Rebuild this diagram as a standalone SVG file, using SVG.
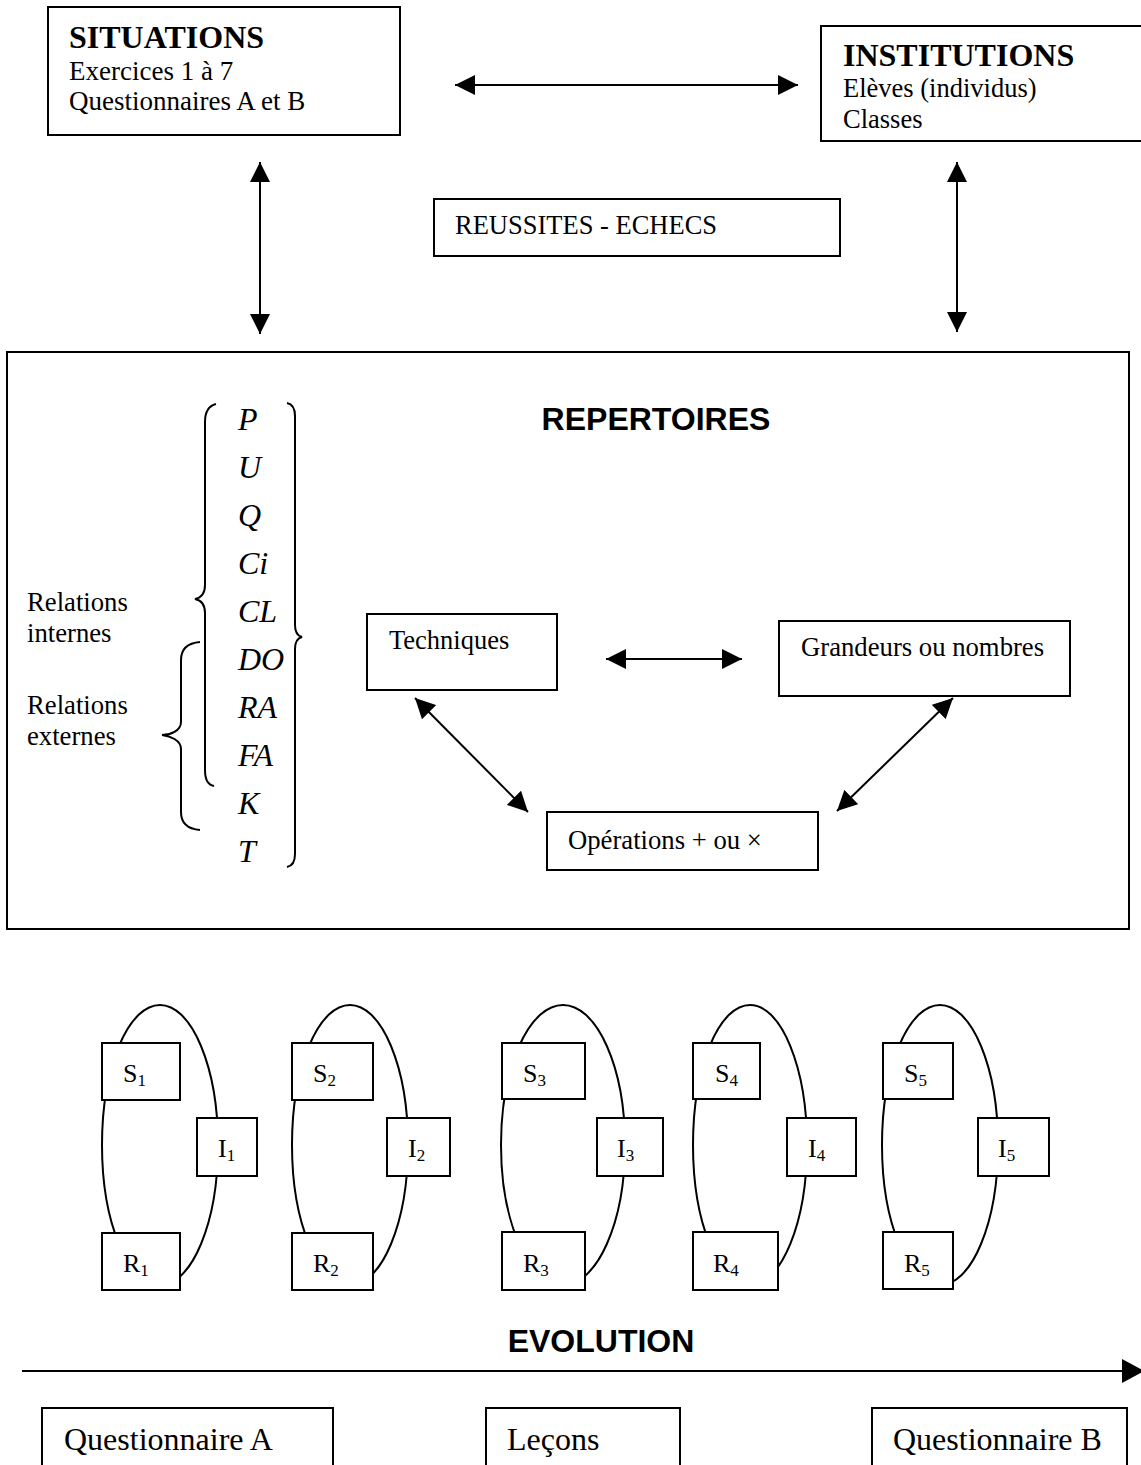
<svg xmlns="http://www.w3.org/2000/svg" width="1141" height="1465" viewBox="0 0 1141 1465">
<style>
.box{fill:#fff;stroke:#000;stroke-width:2}
.ln{fill:none;stroke:#000;stroke-width:2}
.t{font-family:"Liberation Serif","Times New Roman",serif;fill:#000}
.h{font-family:"Liberation Serif","Times New Roman",serif;font-weight:bold;font-size:32px;fill:#000}
.s{font-family:"Liberation Sans",Arial,sans-serif;font-weight:bold;font-size:32px;fill:#000}
.it{font-family:"Liberation Serif","Times New Roman",serif;font-style:italic;font-size:32px;fill:#000}
.lab{font-family:"Liberation Serif","Times New Roman",serif;font-size:26px;fill:#000}
.sub{font-size:17px}
</style>
<defs>
<marker id="ah" markerUnits="userSpaceOnUse" markerWidth="20" markerHeight="20" refX="20" refY="10" orient="auto-start-reverse">
<path d="M0,0 L20,10 L0,20 z" fill="#000"/>
</marker>
<marker id="ah2" markerUnits="userSpaceOnUse" markerWidth="22" markerHeight="24" refX="20" refY="12" orient="auto">
<path d="M0,0 L22,12 L0,24 z" fill="#000"/>
</marker>
</defs>

<g id="situations">
<rect class="box" x="48" y="7" width="352" height="128"/>
<text class="h" x="69" y="48">SITUATIONS</text>
<text class="t" font-size="27" x="69" y="80">Exercices 1 à 7</text>
<text class="t" font-size="27" x="69" y="110">Questionnaires A et B</text>
</g>

<g id="institutions">
<rect class="box" x="821" y="26" width="330" height="115"/>
<text class="h" x="843" y="66">INSTITUTIONS</text>
<text class="t" font-size="26.5" x="843" y="97">Elèves (individus)</text>
<text class="t" font-size="26.5" x="843" y="128">Classes</text>
</g>

<g id="reussites">
<rect class="box" x="434" y="199" width="406" height="57"/>
<text class="t" font-size="26.5" x="455" y="234">REUSSITES - ECHECS</text>
</g>

<g id="repertoires">
<rect class="box" x="7" y="352" width="1122" height="577"/>
<text class="s" x="656" y="430" text-anchor="middle">REPERTOIRES</text>
<text class="it" x="238" y="430">P</text>
<text class="it" x="238" y="478">U</text>
<text class="it" x="238" y="526">Q</text>
<text class="it" x="238" y="574">Ci</text>
<text class="it" x="238" y="622">CL</text>
<text class="it" x="238" y="670">DO</text>
<text class="it" x="238" y="718">RA</text>
<text class="it" x="238" y="766">FA</text>
<text class="it" x="238" y="814">K</text>
<text class="it" x="238" y="862">T</text>
<path class="ln" d="M216,404 C208,406 205,412 205,422 L205,585 C205,594 200,598 195,599 C200,600 205,604 205,613 L205,770 C205,780 208,785 214,786"/>
<path class="ln" d="M200,642 C188,643 181,648 181,660 L181,722 C181,731 170,735 162,735 C170,736 181,740 181,749 L181,812 C181,824 188,829 200,830"/>
<path class="ln" d="M287,403 C292,404 295,408 295,416 L295,625 C295,632 298,636 302,637 C298,638 295,642 295,649 L295,854 C295,862 292,866 287,867"/>
<text class="t" font-size="26.7" x="27" y="611">Relations</text>
<text class="t" font-size="26.7" x="27" y="642">internes</text>
<text class="t" font-size="26.7" x="27" y="714">Relations</text>
<text class="t" font-size="26.7" x="27" y="745">externes</text>
</g>

<g id="techniques">
<rect class="box" x="367" y="614" width="190" height="76"/>
<text class="t" font-size="26.5" x="389" y="649">Techniques</text>
</g>
<g id="grandeurs">
<rect class="box" x="779" y="621" width="291" height="75"/>
<text class="t" font-size="26.7" x="801" y="656">Grandeurs ou nombres</text>
</g>
<g id="operations">
<rect class="box" x="547" y="812" width="271" height="58"/>
<text class="t" font-size="26.7" x="568" y="849">Opérations + ou ×</text>
</g>

<g id="connectors">
<line class="ln" x1="455" y1="85" x2="798" y2="85" marker-start="url(#ah)" marker-end="url(#ah)"/>
<line class="ln" x1="260" y1="162" x2="260" y2="334" marker-start="url(#ah)" marker-end="url(#ah)"/>
<line class="ln" x1="957" y1="162" x2="957" y2="332" marker-start="url(#ah)" marker-end="url(#ah)"/>
<line class="ln" x1="606" y1="659" x2="742" y2="659" marker-start="url(#ah)" marker-end="url(#ah)"/>
<line class="ln" x1="415" y1="698" x2="528" y2="812" marker-start="url(#ah)" marker-end="url(#ah)"/>
<line class="ln" x1="953" y1="698" x2="837" y2="811" marker-start="url(#ah)" marker-end="url(#ah)"/>
<line class="ln" x1="22" y1="1371" x2="1142" y2="1371" marker-end="url(#ah2)"/>
<ellipse class="ln" cx="160" cy="1145" rx="58" ry="140"/>
<ellipse class="ln" cx="350" cy="1145" rx="58" ry="140"/>
<ellipse class="ln" cx="563" cy="1145" rx="62" ry="140"/>
<ellipse class="ln" cx="750" cy="1145" rx="57" ry="140"/>
<ellipse class="ln" cx="940" cy="1145" rx="58" ry="140"/>
</g>

<g id="cycle1">
<rect class="box" x="102" y="1043" width="78" height="57"/><text class="lab" x="123" y="1082">S<tspan class="sub" dy="4">1</tspan></text>
<rect class="box" x="197" y="1118" width="60" height="58"/><text class="lab" x="218" y="1157">I<tspan class="sub" dy="4">1</tspan></text>
<rect class="box" x="102" y="1233" width="78" height="57"/><text class="lab" x="123" y="1272">R<tspan class="sub" dy="4">1</tspan></text>
</g>
<g id="cycle2">
<rect class="box" x="292" y="1043" width="81" height="57"/><text class="lab" x="313" y="1082">S<tspan class="sub" dy="4">2</tspan></text>
<rect class="box" x="387" y="1118" width="63" height="58"/><text class="lab" x="408" y="1157">I<tspan class="sub" dy="4">2</tspan></text>
<rect class="box" x="292" y="1233" width="81" height="57"/><text class="lab" x="313" y="1272">R<tspan class="sub" dy="4">2</tspan></text>
</g>
<g id="cycle3">
<rect class="box" x="502" y="1043" width="83" height="56"/><text class="lab" x="523" y="1082">S<tspan class="sub" dy="4">3</tspan></text>
<rect class="box" x="597" y="1118" width="66" height="58"/><text class="lab" x="617" y="1157">I<tspan class="sub" dy="4">3</tspan></text>
<rect class="box" x="502" y="1232" width="83" height="58"/><text class="lab" x="523" y="1272">R<tspan class="sub" dy="4">3</tspan></text>
</g>
<g id="cycle4">
<rect class="box" x="693" y="1043" width="67" height="56"/><text class="lab" x="715" y="1082">S<tspan class="sub" dy="4">4</tspan></text>
<rect class="box" x="787" y="1118" width="69" height="58"/><text class="lab" x="808" y="1157">I<tspan class="sub" dy="4">4</tspan></text>
<rect class="box" x="693" y="1232" width="85" height="58"/><text class="lab" x="713" y="1272">R<tspan class="sub" dy="4">4</tspan></text>
</g>
<g id="cycle5">
<rect class="box" x="883" y="1043" width="70" height="56"/><text class="lab" x="904" y="1082">S<tspan class="sub" dy="4">5</tspan></text>
<rect class="box" x="978" y="1118" width="71" height="58"/><text class="lab" x="998" y="1157">I<tspan class="sub" dy="4">5</tspan></text>
<rect class="box" x="883" y="1232" width="70" height="57"/><text class="lab" x="904" y="1272">R<tspan class="sub" dy="4">5</tspan></text>
</g>

<text class="s" x="601" y="1352" text-anchor="middle">EVOLUTION</text>

<g id="questA">
<rect class="box" x="42" y="1408" width="291" height="70"/>
<text class="t" font-size="32" x="64" y="1450">Questionnaire A</text>
</g>
<g id="lecons">
<rect class="box" x="486" y="1408" width="194" height="70"/>
<text class="t" font-size="32" x="507" y="1450">Leçons</text>
</g>
<g id="questB">
<rect class="box" x="872" y="1408" width="255" height="70"/>
<text class="t" font-size="32" x="893" y="1450">Questionnaire B</text>
</g>
</svg>
